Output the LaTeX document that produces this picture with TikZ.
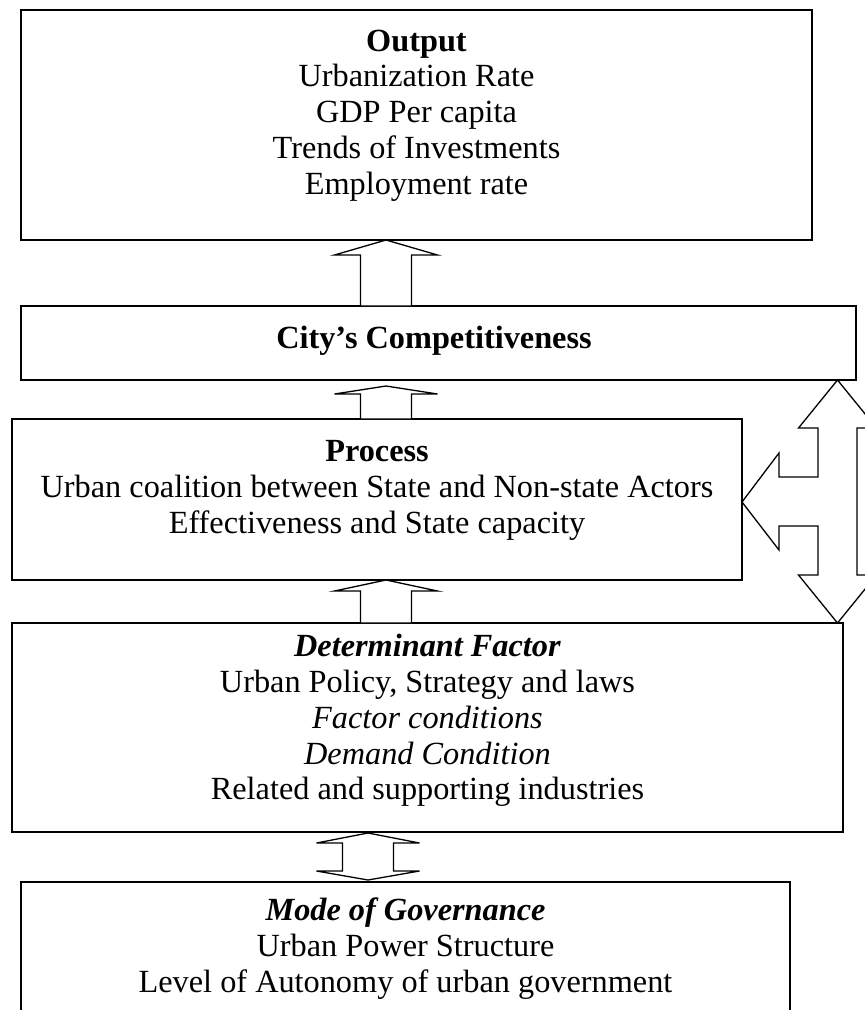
\documentclass[tikz,border=0pt]{standalone}
\usepackage{fontspec}
\setmainfont{Liberation Serif}
\usetikzlibrary{calc}
\tikzset{
  box/.style={draw, line width=1.6pt, rectangle, outer sep=0pt, inner sep=0pt},
  txt/.style={align=center, inner sep=0pt, font=\fontsize{32.3}{35.8}\selectfont},
  blk/.style={draw, line width=1.3pt, line join=miter, fill=white},
}
% #1 tip, #2 base (same x), #3 head length
\newcommand\UpBlock[3]{%
  \draw[blk] (#1) -- ($(#1)+(51.5,#3)$) -- ($(#1)+(25.5,#3)$) -- ($(#2)+(25.5,0)$)
    -- ($(#2)+(-25.5,0)$) -- ($(#1)+(-25.5,#3)$) -- ($(#1)+(-51.5,#3)$) -- cycle;}
\begin{document}
\begin{tikzpicture}[x=1pt,y=-1pt]
\useasboundingbox (0,0) rectangle (865,1010);
\clip (0,0) rectangle (865,1010);

% boxes
\node[box, minimum width=791pt, minimum height=230pt] (out)  at (416.5,125) {};
\node[box, minimum width=835pt, minimum height=74pt]  (city) at (438.5,343) {};
\node[box, minimum width=730pt, minimum height=161pt] (proc) at (377,499.5) {};
\node[box, minimum width=831pt, minimum height=209pt] (det)  at (427.5,727.5) {};
\node[box, minimum width=769pt, minimum height=148pt] (mode) at (405.5,956) {};

% texts
\node[txt] (outT) at (416.5,115.5) {\textbf{Output}\\Urbanization Rate\\GDP Per capita\\Trends of Investments\\Employment rate};
\node[txt] (cityT) at (434,340.5) {\textbf{City’s Competitiveness}};
\node[txt] (procT) at (377,490.5) {\textbf{Process}\\Urban coalition between State and Non-state Actors\\Effectiveness and State capacity};
\node[txt] (detT) at (427.5,720.5) {\textbf{\textit{Determinant Factor}}\\Urban Policy, Strategy and laws\\\textit{Factor conditions}\\\textit{Demand Condition}\\Related and supporting industries};
\node[txt] (modeT) at (405.5,948.5) {\textbf{\textit{Mode of Governance}}\\Urban Power Structure\\Level of Autonomy of urban government};

% vertical block arrows
\coordinate (ax) at (386,0);
\coordinate (t1) at (ax |- out.south);
\coordinate (b1) at (ax |- city.north);
\UpBlock{t1}{b1}{15}
\coordinate (t2) at ($(ax |- city.south)+(0,6)$);
\coordinate (b2) at (ax |- proc.north);
\UpBlock{t2}{b2}{8}
\coordinate (t3) at (ax |- proc.south);
\coordinate (b3) at (ax |- det.north);
\UpBlock{t3}{b3}{11}

% double arrow between determinant and mode
\coordinate (dx) at (368,0);
\coordinate (t4) at ($(dx |- det.south)+(0,1)$);
\coordinate (b4) at ($(dx |- mode.north)+(0,-2)$);
\draw[blk] (t4) -- ($(t4)+(51.5,10)$) -- ($(t4)+(25.5,10)$) -- ($(b4)+(25.5,-9)$)
  -- ($(b4)+(51.5,-9)$) -- (b4) -- ($(b4)+(-51.5,-9)$) -- ($(b4)+(-25.5,-9)$)
  -- ($(t4)+(-25.5,10)$) -- ($(t4)+(-51.5,10)$) -- cycle;

% three-way arrow on the right
\coordinate (rx) at (837.5,0);
\coordinate (rt) at (rx |- city.south);
\coordinate (rb) at (rx |- det.north);
\coordinate (rl) at ($(proc.east)+(0,2.5)$);
\draw[blk] (rt) -- ($(rt)+(39,48)$) -- ($(rt)+(19.5,48)$) -- ($(rb)+(19.5,-48)$)
  -- ($(rb)+(39,-48)$) -- (rb) -- ($(rb)+(-39,-48)$) -- ($(rb)+(-19.5,-48)$)
  -- ($(rl)+(76,24)$) -- ($(rl)+(37,24)$) -- ($(rl)+(37,48)$) -- (rl)
  -- ($(rl)+(37,-49)$) -- ($(rl)+(37,-25)$) -- ($(rl)+(76,-25)$)
  -- ($(rt)+(-19.5,48)$) -- ($(rt)+(-39,48)$) -- cycle;
\end{tikzpicture}
\end{document}
